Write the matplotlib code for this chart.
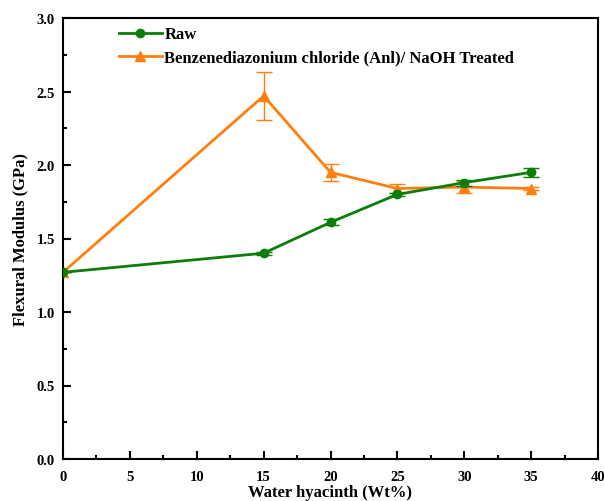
import numpy as np
import matplotlib as mpl
import matplotlib.pyplot as plt
import matplotlib.ticker as mticker

mpl.rcParams.update({
    'font.family': 'serif',
    'font.serif': ['Liberation Serif', 'DejaVu Serif'],
    'font.weight': 'bold',
    'axes.labelweight': 'bold',
})

wt = [0, 15, 20, 25, 30, 35]
raw_mod = [1.27, 1.40, 1.61, 1.80, 1.88, 1.95]
raw_err = [0.0, 0.01, 0.02, 0.01, 0.02, 0.03]
trt_mod = [1.27, 2.47, 1.95, 1.84, 1.85, 1.84]
trt_err = [0.0, 0.165, 0.06, 0.03, 0.04, 0.01]

GREEN = '#0a7d0a'
ORANGE = '#ff7f0e'

fig = plt.figure(figsize=(6.04, 5.02), dpi=100)
ax = fig.add_axes([63 / 604, 1 - 460 / 502, 535 / 604, 441 / 502])

ax.errorbar(wt, raw_mod, yerr=raw_err, color=GREEN, fmt='none',
            elinewidth=1, capsize=6, capthick=1, zorder=3)
ax.plot(wt, raw_mod, color=GREEN, marker='o', markersize=6, linewidth=2,
        label='Raw', zorder=3)
ax.errorbar(wt, trt_mod, yerr=trt_err, color=ORANGE, fmt='none',
            elinewidth=1, capsize=6, capthick=1, zorder=2)
ax.plot(wt, trt_mod, color=ORANGE, marker='^', markersize=7, linewidth=2,
        label='Benzenediazonium chloride (Anl)/ NaOH Treated', zorder=2)

ax.set_xlim(0, 40)
ax.set_ylim(0, 3.0)
ax.xaxis.set_major_locator(mticker.MultipleLocator(5))
ax.xaxis.set_minor_locator(mticker.MultipleLocator(2.5))
ax.yaxis.set_major_locator(mticker.MultipleLocator(0.5))
ax.yaxis.set_minor_locator(mticker.MultipleLocator(0.25))
ax.yaxis.set_major_formatter(mticker.FormatStrFormatter('%.1f'))
ax.tick_params(which='both', direction='in', labelsize=10.5, width=1.5)
ax.tick_params(which='major', length=6)
ax.tick_params(which='minor', length=3)
ax.tick_params(axis='x', pad=8)
ax.tick_params(axis='y', pad=6)
for lab in ax.get_xticklabels() + ax.get_yticklabels():
    lab.set_fontweight('bold')
for sp in ax.spines.values():
    sp.set_linewidth(1.5)

ax.set_xlabel('Water hyacinth (Wt%)', fontsize=12, labelpad=1)
ax.set_ylabel('Flexural Modulus (GPa)', fontsize=12, labelpad=6)

leg = ax.legend(loc='upper left', bbox_to_anchor=(0.076, 1.015), frameon=False,
                prop={'size': 12, 'weight': 'bold'}, handlelength=2.6,
                handletextpad=0.15, labelspacing=0.45)

fig.savefig('out.png', dpi=100)
